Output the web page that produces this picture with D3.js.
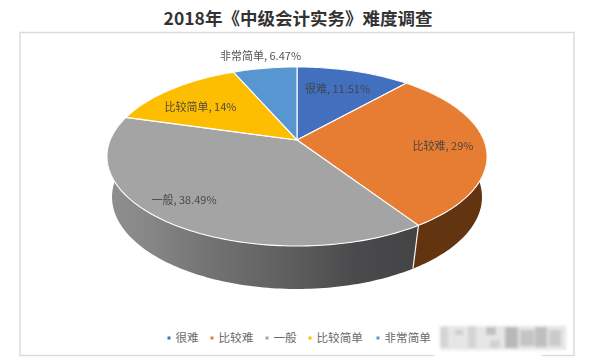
<!DOCTYPE html>
<html>
<head>
<meta charset="utf-8">
<script src="https://cdnjs.cloudflare.com/ajax/libs/d3/7.8.5/d3.min.js"></script>
<style>
  html, body { margin: 0; background: #fff; }
  svg { display: block; }
  text { font-family: "Noto Sans CJK SC", sans-serif; }
</style>
</head>
<body>
<div id="container"></div>
<script>
const width = 596, height = 363;

/* DATA */
const categories = ["很难", "比较难", "一般", "比较简单", "非常简单"];
const percents = [11.51, 29, 38.49, 14, 6.47];
const percentLabels = ["11.51%", "29%", "38.49%", "14%", "6.47%"];
const colors = ["#4270bf", "#e77c33", "#a5a4a5", "#fdbe02", "#5896d2"];

/* top face and bottom edge of the disc, drawn in perspective */
const topFace = { cx: 297, cy: 140, k: 186.8, h: 86.5, tilt: -0.184 };
const bottomFace = { cx: 297, cy: 182.3, k: 182.6, h: 89.6, tilt: -0.16 };

function project(face, angle) {
  const u = Math.sin(angle), v = -Math.cos(angle);
  const d = 1 + face.tilt * v;
  return [face.cx + face.k * u / d, face.cy + face.h * v / d];
}

function arcPoints(face, a0, a1) {
  const n = Math.max(2, Math.ceil((a1 - a0) / 0.02));
  return d3.range(n + 1).map(i => project(face, a0 + (a1 - a0) * i / n));
}

const line = d3.line();
const slices = d3.pie().sort(null).value(d => d)(percents);

const svg = d3.select("#container").append("svg")
  .attr("width", width)
  .attr("height", height);

const defs = svg.append("defs");

const wallGrad = defs.append("linearGradient")
  .attr("id", "wallGrey")
  .attr("gradientUnits", "userSpaceOnUse")
  .attr("x1", 108).attr("x2", 418).attr("y1", 0).attr("y2", 0);
[[0, "#8f8f8f"], [0.14, "#868686"], [0.3, "#757575"], [0.6, "#5d5d5e"], [0.8, "#4a4a4c"], [1, "#444446"]]
  .forEach(s => wallGrad.append("stop").attr("offset", s[0]).attr("stop-color", s[1]));

defs.append("filter").attr("id", "blurMark")
  .attr("x", "-20%").attr("y", "-20%").attr("width", "140%").attr("height", "140%")
  .append("feGaussianBlur").attr("stdDeviation", 1.6);

/* chart frame */
svg.append("rect")
  .attr("x", 20).attr("y", 32.5)
  .attr("width", 554).attr("height", 323)
  .attr("fill", "#fff")
  .attr("stroke", "#d9d9d9")
  .attr("stroke-width", 1.4);

svg.append("text")
  .attr("x", 298).attr("y", 24.5)
  .attr("text-anchor", "middle")
  .attr("font-size", 17.5)
  .attr("font-weight", 700)
  .attr("fill", "#333")
  .text("2018年《中级会计实务》难度调查");

/* side walls, the top faces cover whatever is at the back */
const wallColors = ["#2a4a80", "#633410", "url(#wallGrey)", "#a07a00", "#38618a"];

svg.append("g").selectAll("path")
  .data(slices)
  .join("path")
  .attr("d", d => {
    const upper = arcPoints(topFace, d.startAngle, d.endAngle);
    const lower = arcPoints(bottomFace, d.startAngle, d.endAngle).reverse();
    return line(upper.concat(lower)) + "Z";
  })
  .attr("fill", (d, i) => wallColors[i]);

/* white seam between the orange and grey walls */
svg.append("path")
  .attr("d", line([project(topFace, slices[2].startAngle), project(bottomFace, slices[2].startAngle)]))
  .attr("stroke", "#f2f2f2")
  .attr("stroke-width", 1.2);

svg.append("g").selectAll("path")
  .data(slices)
  .join("path")
  .attr("d", d => line([[topFace.cx, topFace.cy], ...arcPoints(topFace, d.startAngle, d.endAngle)]) + "Z")
  .attr("fill", (d, i) => colors[i])
  .attr("stroke", "#fff")
  .attr("stroke-width", 1.1)
  .attr("stroke-linejoin", "round");

/* data labels */
const labelAt = [[337.5, 89], [443, 146], [184, 200], [200.5, 107], [260.5, 56]];

svg.append("g").selectAll("text")
  .data(slices)
  .join("text")
  .attr("x", (d, i) => labelAt[i][0])
  .attr("y", (d, i) => labelAt[i][1] + 4)
  .attr("text-anchor", "middle")
  .attr("font-size", 11)
  .attr("fill", "#404040")
  .attr("opacity", 0.9)
  .text((d, i) => categories[i] + ", " + percentLabels[i]);

/* legend */
const legendX = [169, 212, 267, 310, 378];

const legend = svg.append("g").selectAll("g")
  .data(categories)
  .join("g")
  .attr("transform", (d, i) => `translate(${legendX[i]},338)`);

legend.append("rect")
  .attr("x", -1.5).attr("y", -1.5)
  .attr("width", 3).attr("height", 3)
  .attr("fill", (d, i) => colors[i]);

legend.append("text")
  .attr("x", 6.5).attr("y", 4)
  .attr("font-size", 11.6)
  .attr("fill", "#6a6a6a")
  .text(d => d);

/* blurred watermark in the corner */
const mark = svg.append("g").attr("filter", "url(#blurMark)");

mark.append("rect")
  .attr("x", 434).attr("y", 318)
  .attr("width", 108).attr("height", 44)
  .attr("fill", "#fff");

mark.append("rect")
  .attr("x", 440).attr("y", 326)
  .attr("width", 126).attr("height", 24)
  .attr("fill", "#e6e6e6");

const markBlocks = [
  [440, 327, 8, 20, "#d4d4d4"], [455, 330, 8, 5, "#cdcdcd"], [468, 326, 8, 22, "#d4d4d4"],
  [486, 327, 10, 8, "#c0c0c0"], [490, 340, 10, 8, "#d2d2d2"], [505, 327, 13, 21, "#b8b8b8"],
  [520, 330, 14, 16, "#c4c4c4"], [535, 327, 12, 20, "#bebebe"], [549, 330, 12, 16, "#cbcbcb"]
];

mark.selectAll("rect.block")
  .data(markBlocks)
  .join("rect")
  .attr("class", "block")
  .attr("x", d => d[0]).attr("y", d => d[1])
  .attr("width", d => d[2]).attr("height", d => d[3])
  .attr("fill", d => d[4]);
</script>
</body>
</html>
